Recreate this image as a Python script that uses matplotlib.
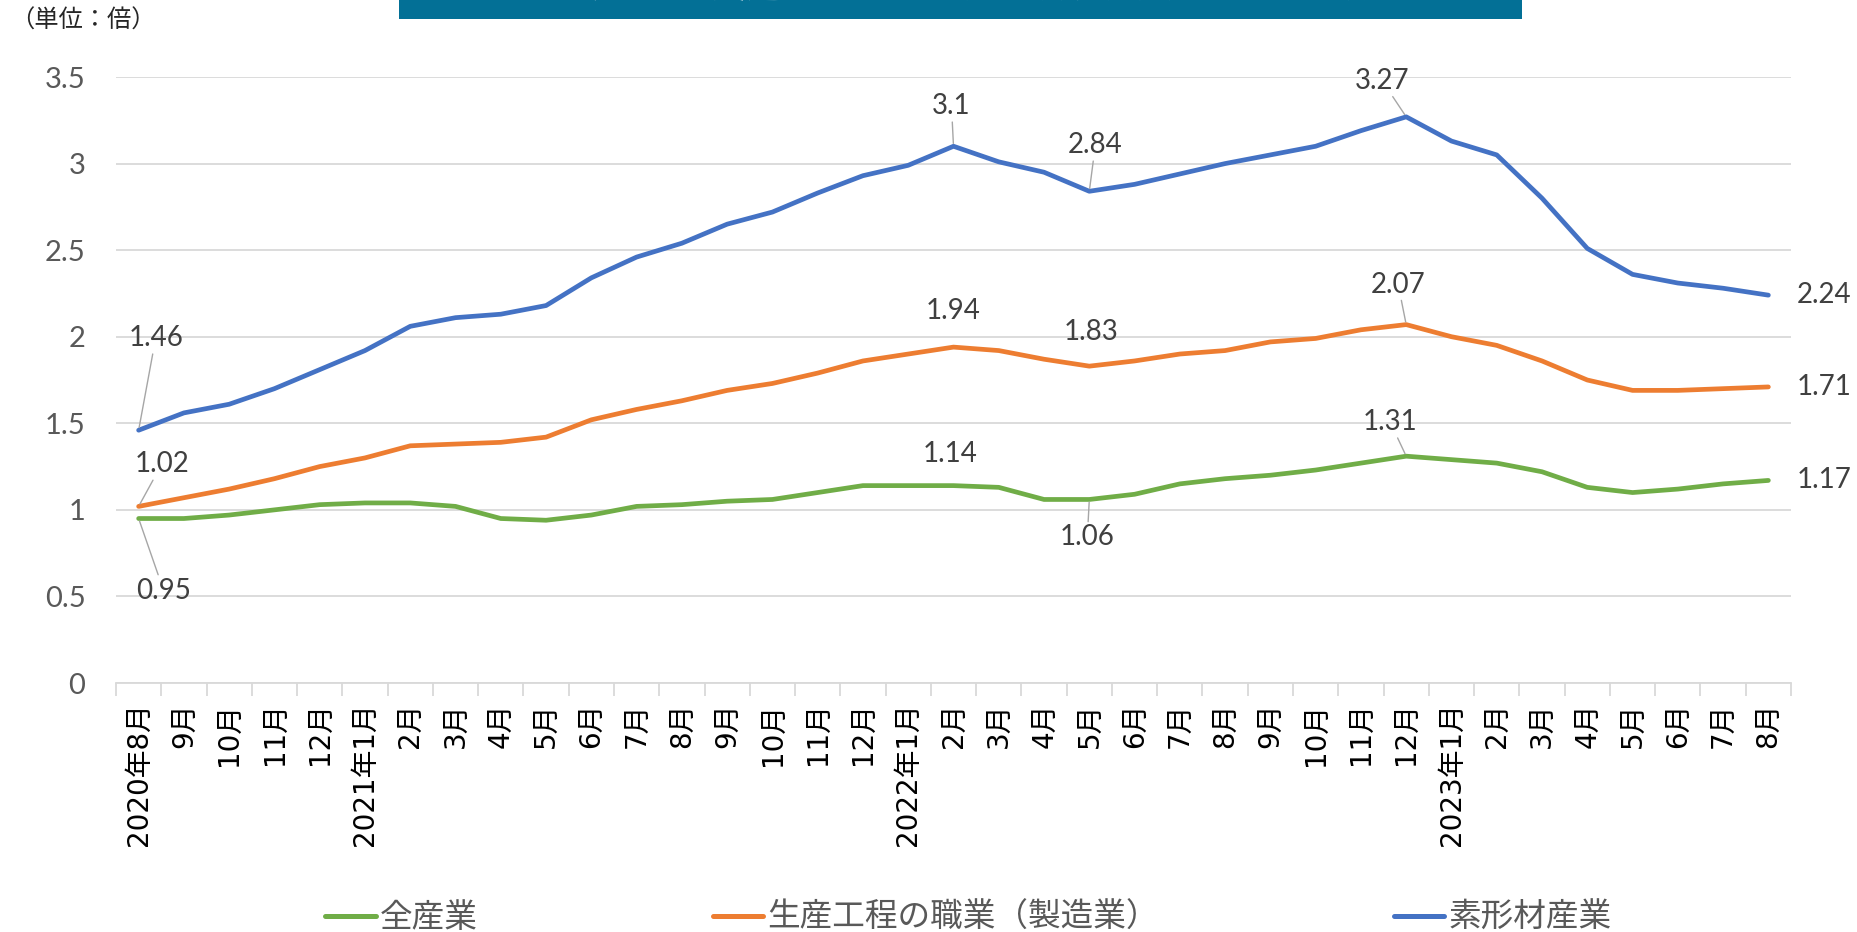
import matplotlib
matplotlib.use("Agg")
import matplotlib.pyplot as plt
from matplotlib.patches import Rectangle
from matplotlib.lines import Line2D

plt.rcParams['font.family'] = ['Noto Sans CJK JP', 'DejaVu Sans']

# ---------------- data ----------------
months = ["2020年8月", "9月", "10月", "11月", "12月",
          "2021年1月", "2月", "3月", "4月", "5月", "6月", "7月", "8月", "9月", "10月", "11月", "12月",
          "2022年1月", "2月", "3月", "4月", "5月", "6月", "7月", "8月", "9月", "10月", "11月", "12月",
          "2023年1月", "2月", "3月", "4月", "5月", "6月", "7月", "8月"]

all_industries = [0.95, 0.95, 0.97, 1.00, 1.03, 1.04, 1.04, 1.02, 0.95, 0.94, 0.97, 1.02, 1.03,
                  1.05, 1.06, 1.10, 1.14, 1.14, 1.14, 1.13, 1.06, 1.06, 1.09, 1.15, 1.18,
                  1.20, 1.23, 1.27, 1.31, 1.29, 1.27, 1.22, 1.13, 1.10, 1.12, 1.15, 1.17]

production = [1.02, 1.07, 1.12, 1.18, 1.25, 1.30, 1.37, 1.38, 1.39, 1.42, 1.52, 1.58, 1.63,
              1.69, 1.73, 1.79, 1.86, 1.90, 1.94, 1.92, 1.87, 1.83, 1.86, 1.90, 1.92,
              1.97, 1.99, 2.04, 2.07, 2.00, 1.95, 1.86, 1.75, 1.69, 1.69, 1.70, 1.71]

materials = [1.46, 1.56, 1.61, 1.70, 1.81, 1.92, 2.06, 2.11, 2.13, 2.18, 2.34, 2.46, 2.54,
             2.65, 2.72, 2.83, 2.93, 2.99, 3.10, 3.01, 2.95, 2.84, 2.88, 2.94, 3.00,
             3.05, 3.10, 3.19, 3.27, 3.13, 3.05, 2.80, 2.51, 2.36, 2.31, 2.28, 2.24]

series_names = ["全産業", "生産工程の職業（製造業）", "素形材産業"]
series_colors = ["#70AD47", "#ED7D31", "#4472C4"]

title_text = "全産業と製造業系職業別の有効求人倍率の比較"
unit_text = "（単位：倍）"
y_ticks = [0, 0.5, 1, 1.5, 2, 2.5, 3, 3.5]
y_tick_labels = ["0", "0.5", "1", "1.5", "2", "2.5", "3", "3.5"]

# ---------------- figure ----------------
W, H = 1857, 932
DPI = 100
fig = plt.figure(figsize=(W / DPI, H / DPI), dpi=DPI)

left_px, right_px, top_px, bottom_px = 116, 1791, 77, 683
ax = fig.add_axes([left_px / W, 1 - bottom_px / H, (right_px - left_px) / W, (bottom_px - top_px) / H])

x = list(range(len(months)))
series = [all_industries, production, materials]
for vals, name, col in zip(series, series_names, series_colors):
    ax.plot(x, vals, color=col, lw=3.4, solid_capstyle='round', solid_joinstyle='round',
            label=name, zorder=3)

ax.set_xlim(-0.5, len(months) - 0.5)
ax.set_ylim(0, 3.5)
ax.set_yticks(y_ticks)
ax.set_yticklabels(y_tick_labels, fontsize=21, color="#595959", family=['Lato', 'DejaVu Sans'])
ax.yaxis.grid(True, color="#D9D9D9", lw=1.3)
ax.set_axisbelow(True)
ax.tick_params(axis='y', length=0, pad=22)

# x ticks between categories
ax.set_xticks([i - 0.5 for i in range(len(months) + 1)], minor=False)
ax.set_xticklabels([])
ax.tick_params(axis='x', which='major', length=9, color="#D9D9D9", width=1.3, direction='out')
ax.set_xticks(x, minor=True)
ax.set_xticklabels(months, minor=True, rotation=90, fontsize=20, color="black",
                   family=['DejaVu Sans', 'Noto Sans CJK JP'], va='top', ha='center')
ax.tick_params(axis='x', which='minor', length=0, pad=14)

for s in ['top', 'right', 'left']:
    ax.spines[s].set_visible(False)
ax.spines['bottom'].set_color("#D9D9D9")
ax.spines['bottom'].set_linewidth(1.3)

# ---------------- data labels ----------------
def px(v):
    return v * 72.0 / DPI

lab_font = dict(fontsize=20, color="#404040", family=['Lato', 'DejaVu Sans'])
leader = dict(arrowstyle='-', color="#A6A6A6", lw=1.0, shrinkA=0, shrinkB=2)

# (series, index, dx px, dy px (up positive), leader?)
label_specs = [
    (materials, 0, 17, 92, True),
    (production, 0, 23, 42, True),
    (all_industries, 0, 25, -72, True),
    (materials, 18, -2, 40, True),
    (materials, 21, 6, 46, True),
    (materials, 28, -24, 36, True),
    (production, 18, 0, 36, False),
    (production, 21, 2, 34, False),
    (production, 28, -8, 40, True),
    (all_industries, 18, -3, 32, False),
    (all_industries, 21, -2, -38, True),
    (all_industries, 28, -16, 34, True),
]
for vals, i, dx, dy, has_leader in label_specs:
    ax.annotate(f"{vals[i]:g}", xy=(i, vals[i]), xytext=(px(dx), px(dy)),
                textcoords='offset points', ha='center', va='center',
                arrowprops=leader if has_leader else None, **lab_font)

last = len(months) - 1
for vals in series:
    ax.annotate(f"{vals[last]:g}", xy=(last, vals[last]), xytext=(px(28), 0),
                textcoords='offset points', ha='left', va='center',
                annotation_clip=False, **lab_font)

# ---------------- legend ----------------
handles = [Line2D([0], [0], color=c, lw=3.6, solid_capstyle='round') for c in series_colors]
leg = fig.legend(handles, series_names, loc='center', ncol=3,
                 bbox_to_anchor=(0.5 + 40 / W, 1 - 918 / H), frameon=False,
                 prop={'family': ['Noto Sans CJK JP', 'DejaVu Sans'], 'size': 23.5},
                 handlelength=1.55, handletextpad=0.12, columnspacing=7.2, labelcolor="#595959")

# ---------------- title box & unit ----------------
fig.patches.append(Rectangle((399 / W, 1 - 19 / H), (1522 - 399) / W, 19 / H + 0.01,
                             transform=fig.transFigure, facecolor="#037096", edgecolor='none'))
fig.text((399 + 1522) / 2 / W, 1 + 4 / H, title_text, ha='center', va='baseline',
         fontsize=28, color='white', fontweight='bold')
fig.text(10 / W, 1 - 21 / H, unit_text, ha='left', va='center', fontsize=17.5, color="#262626")

fig.savefig("out.png", dpi=DPI)
